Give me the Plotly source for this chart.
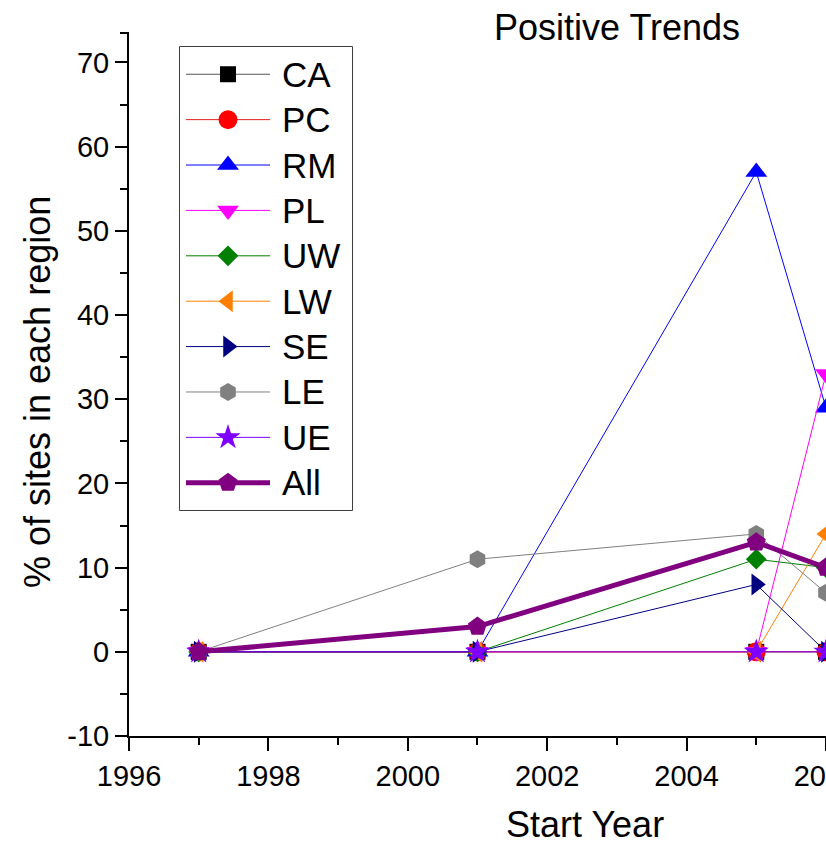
import plotly.graph_objects as go

# Start years of the trend windows
years = [1997, 2001, 2005, 2006]

# % of sites with positive trends, per region
CA = [0, 0, 0, 0]
PC = [0, 0, 0, 0]
RM = [0, 0, 57, 29]
PL = [0, 0, 0, 33]
UW = [0, 0, 11, 10]
LW = [0, 0, 0, 14]
SE = [0, 0, 8, 0]
LE = [0, 11, 14, 7]
UE = [0, 0, 0, 0]
ALL = [0, 3, 13, 10]

# Axis tick labels
x_ticks = [1996, 1998, 2000, 2002, 2004, 2006]
x_labels = ["1996", "1998", "2000", "2002", "2004", "2006"]
y_ticks = [-10, 0, 10, 20, 30, 40, 50, 60, 70]
y_labels = ["-10", "0", "10", "20", "30", "40", "50", "60", "70"]

names = ["CA", "PC", "RM", "PL", "UW", "LW", "SE", "LE", "UE", "All"]
values = [CA, PC, RM, PL, UW, LW, SE, LE, UE, ALL]
marker_colors = ["#000000", "#FF0000", "#0000FF", "#FF00FF", "#008000",
                 "#FF8000", "#000080", "#808080", "#8000FF", "#800080"]
line_colors = ["#555555", "#E02020", "#0000FF", "#FF00FF", "#008000",
               "#FF8000", "#000080", "#808080", "#8000FF", "#800080"]
symbols = ["square", "circle", "triangle-up", "triangle-down", "diamond",
           "triangle-left", "triangle-right", "hexagon", "star", "pentagon"]
sizes = [16, 19, 19, 19, 16, 19, 19, 18, 19, 20]
widths = [1, 1, 1, 1, 1, 1, 1, 1, 1, 5]

FONT = "Arial, 'Liberation Sans', sans-serif"

W, H = 826, 845
L, R, T, B = 129, 0, 33, 109
PW, PH = W - L - R, H - T - B

fig = go.Figure()

for name, vals, mc, lc, sym, sz, lw in zip(names, values, marker_colors,
                                           line_colors, symbols, sizes, widths):
    fig.add_trace(go.Scatter(
        x=years, y=vals, name=name, mode="lines+markers",
        line=dict(color=lc, width=lw),
        marker=dict(symbol=sym, size=sz, color=mc, opacity=1, line=dict(width=0)),
        cliponaxis=False, showlegend=False,
    ))

# Legend drawn on its own small subplot (box-pixel x units, one row per series)
box_x0, box_x1, box_y0, box_y1 = 180, 352, 47, 510
fig.add_shape(type="rect", xref="x2 domain", yref="y2 domain",
              x0=0, x1=1, y0=0, y1=1, line=dict(color="black", width=1.5),
              fillcolor="white", layer="below")
for i, (name, mc, lc, sym, sz, lw) in enumerate(zip(names, marker_colors, line_colors,
                                                     symbols, sizes, widths)):
    fig.add_trace(go.Scatter(
        x=[6, 90], y=[i, i], mode="lines",
        line=dict(color=lc, width=lw),
        xaxis="x2", yaxis="y2", showlegend=False, hoverinfo="skip",
    ))
    fig.add_trace(go.Scatter(
        x=[48], y=[i], mode="markers",
        marker=dict(symbol=sym, size=sz, color=mc, opacity=1, line=dict(width=0)),
        xaxis="x2", yaxis="y2", showlegend=False, hoverinfo="skip",
        cliponaxis=False,
    ))
    fig.add_annotation(x=100, y=i, xref="x2", yref="y2", text=name,
                       showarrow=False, xanchor="left", yanchor="middle",
                       font=dict(family=FONT, size=35, color="black"))

# Small cap at the top of the y axis
fig.add_shape(type="line", xref="paper", yref="paper",
              x0=-9 / PW, x1=0, y0=1, y1=1, line=dict(color="black", width=2))

axis_font = dict(family=FONT, size=29, color="black")

fig.update_layout(
    width=W, height=H,
    margin=dict(l=L, r=R, t=T, b=B, pad=0, autoexpand=False),
    plot_bgcolor="white", paper_bgcolor="white",
    font=dict(family=FONT, color="black"),
    xaxis=dict(range=[1996, 2006.0005], tickmode="array", tickvals=x_ticks,
               ticktext=x_labels, showgrid=False, ticklabeloverflow="allow",
               automargin=False,
               zeroline=False, showline=True, linecolor="black", linewidth=2,
               ticks="outside", ticklen=13, tickwidth=2, tickcolor="black",
               tickfont=axis_font,
               minor=dict(dtick=1, tick0=1996, ticks="outside", ticklen=7,
                          tickwidth=2, tickcolor="black", showgrid=False)),
    yaxis=dict(range=[-10, 73.5], tickmode="array", tickvals=y_ticks,
               ticktext=y_labels, showgrid=False, automargin=False,
               zeroline=False, showline=True, linecolor="black", linewidth=2,
               ticks="outside", ticklen=12, tickwidth=2, tickcolor="black",
               tickfont=axis_font,
               minor=dict(dtick=5, tick0=0, ticks="outside", ticklen=7,
                          tickwidth=2, tickcolor="black", showgrid=False)),
    xaxis2=dict(domain=[(box_x0 - L) / PW, (box_x1 - L) / PW], range=[0, box_x1 - box_x0],
                visible=False, anchor="y2", fixedrange=True),
    yaxis2=dict(domain=[(H - B - box_y1) / PH, (H - B - box_y0) / PH], range=[9.6, -0.6],
                visible=False, anchor="x2", fixedrange=True),
)

fig.add_annotation(text="Positive Trends", xref="paper", yref="paper",
                   x=(617 - L) / PW, y=(H - B - 27) / PH, showarrow=False,
                   xanchor="center", yanchor="middle",
                   font=dict(family=FONT, size=36, color="black"))
fig.add_annotation(text="Start Year", xref="paper", yref="paper",
                   x=(585 - L) / PW, y=(H - B - 824) / PH, showarrow=False,
                   xanchor="center", yanchor="middle",
                   font=dict(family=FONT, size=36, color="black"))
fig.add_annotation(text="% of sites in each region", xref="paper", yref="paper",
                   x=(37 - L) / PW, y=(H - B - 392) / PH, showarrow=False,
                   textangle=-90, xanchor="center", yanchor="middle",
                   font=dict(family=FONT, size=36, color="black"))

fig.write_html("out.html")
